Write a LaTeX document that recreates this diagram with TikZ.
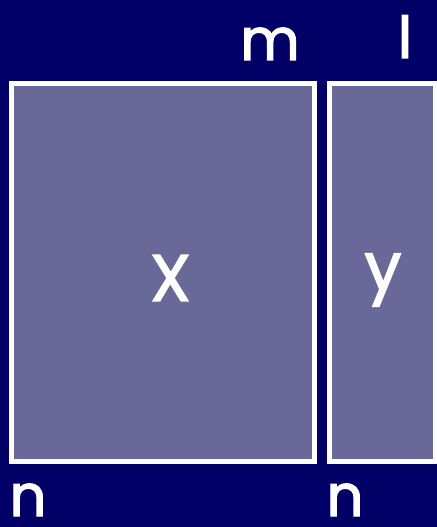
\documentclass[tikz,border=0pt]{standalone}
\usepackage{fontspec}
\setmainfont{Poppins}
\newfontfamily\labfont{Poppins}[FakeBold=2.2]
\usepackage{xcolor}
\usepackage{tikz}
\usetikzlibrary{positioning}
\definecolor{navybg}{RGB}{0,0,102}
\definecolor{matfill}{RGB}{105,105,153}
\tikzset{
  matrixbox/.style={
    rectangle, draw=white, fill=matfill,
    line width=4.5bp, inner sep=0pt
  },
  dimlab/.style={text=white, font=\labfont\fontsize{58}{58}\selectfont,
                 inner sep=0pt, anchor=base},
  namelab/.style={text=white, font=\labfont\fontsize{66}{66}\selectfont,
                  inner sep=0pt},
}

\begin{document}
\begin{tikzpicture}[x=1bp, y=-1bp]
  % Background
  \fill[navybg] (0,0) rectangle (437,527);
  \useasboundingbox (0,0) rectangle (437,527);

  % Matrices
  \node[matrixbox, minimum width=303bp, minimum height=378bp] (matX) at (163,272.5) {};
  \node[matrixbox, minimum width=105.5bp, minimum height=378bp] (matY) at (382.25,272.5) {};

  % Names
  \node[namelab] (nameX) at (170.5,278) {X};
  \node[namelab] (nameY) at (383,280) {y};

  % Dimensions
  \node[dimlab] (dimm)  at (270,60)  {m};
  \node[dimlab] (diml)  at (405,58)  {l};
  \node[dimlab] (dimnX) at (28,516)  {n};
  \node[dimlab] (dimnY) at (345,516) {n};

\end{tikzpicture}
\end{document}
